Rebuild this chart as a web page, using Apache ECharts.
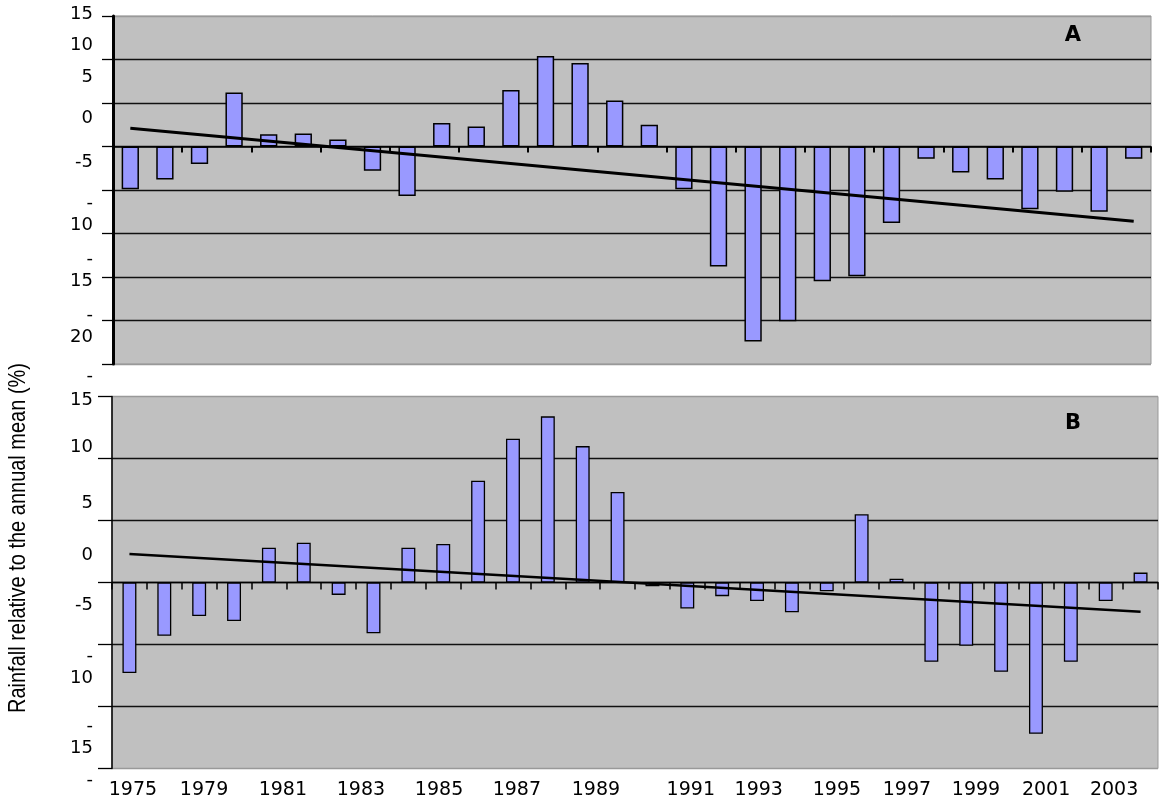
<!DOCTYPE html>
<html><head><meta charset="utf-8">
<script src="https://cdn.jsdelivr.net/npm/echarts@6/dist/echarts.min.js"></script>
<style>html,body{margin:0;padding:0;background:#fff}#c{width:1168px;height:802px}</style>
</head><body><div id="c"></div>
<script>
// ---- data ----
const years = ['1975','1976','1977','1978','1979','1980','1981','1982','1983','1984',
  '1985','1986','1987','1988','1989','1990','1991','1992','1993','1994',
  '1995','1996','1997','1998','1999','2000','2001','2002','2003','2004'];
const valuesA = [-4.9,-3.8,-2.0,6.2,1.4,1.5,0.8,-2.8,-5.7,2.7,
  2.3,6.5,10.4,9.6,5.3,2.5,-4.9,-13.8,-22.4,-20.1,
  -15.5,-14.9,-8.8,-1.4,-3.0,-3.8,-7.2,-5.2,-7.5,-1.4];
const valuesB = [-7.3,-4.3,-2.7,-3.1,2.8,3.2,-1.0,-4.1,2.8,3.1,
  8.2,11.6,13.4,11.0,7.3,-0.3,-2.1,-1.1,-1.5,-2.4,
  -0.7,5.5,0.3,-6.4,-5.1,-7.2,-12.2,-6.4,-1.5,0.8];
const trendA = [2.1, -8.6];   // trend line, first and last year
const trendB = [2.3, -2.35];
const yLabelsA = ['15','10','5','0','-5','-\n10','-\n15','-\n20','-'];
const yLabelsB = ['15','10','5','0','-5','-\n10','-\n15','-'];
const xLabels = ['1975','1979','1981','1983','1985','1987','1989','1991','1993','1995','1997','1999','2001','2003'];
const yTitle = 'Rainfall relative to the annual mean (%)';

// ---- label placement (layout, in axis units) ----
const yLabelSlotsA = [15.23, 11.67, 7.99, 3.28, -1.78, -7.76, -14.2, -20.63, -26.38];
const yLabelSlotsB = [14.72, 10.93, 6.41, 2.22, -1.81, -6.81, -12.46, -15.93];
const xLabelSlots = [0.10, 2.14, 4.40, 6.64, 8.88, 11.11, 13.38, 16.10, 18.05, 20.29, 22.30, 24.28, 26.29, 28.24];

function pick(slots, labels) {
  return function (v) {
    let bi = 0, bd = Infinity;
    slots.forEach((s, i) => { const d = Math.abs(s - v); if (d < bd) { bd = d; bi = i; } });
    return labels[bi];
  };
}
const FONT = "'DejaVu Sans', Verdana, sans-serif";
const TITLE_FONT = "24px 'Liberation Sans', Arial, sans-serif";
const BAR = '#9999ff';
const GRID_BG = '#c0c0c0';

// narrow the title to the reference's condensed look
const mctx = document.createElement('canvas').getContext('2d');
mctx.font = TITLE_FONT;
const titleScale = Math.min(1, 350 / mctx.measureText(yTitle).width);

const chart = echarts.init(document.getElementById('c'), null, {renderer: 'canvas'});
const trendData = (t) => [[years[0], t[0]], [years[years.length - 1], t[1]]];

chart.setOption({
  animation: false,
  backgroundColor: '#fff',
  grid: [
    {left: 113, top: 16, width: 1038, height: 348, show: true, backgroundColor: GRID_BG, borderColor: '#999', borderWidth: 1},
    {left: 112, top: 396.5, width: 1046, height: 372, show: true, backgroundColor: GRID_BG, borderColor: '#999', borderWidth: 1},
    {left: 113, top: 7.3, width: 1038, height: 374.1, show: false},
    {left: 112, top: 384.1, width: 1046, height: 409.2, show: false}
  ],
  xAxis: [
    {gridIndex: 0, type: 'category', data: years,
      axisLine: {onZero: true, lineStyle: {color: '#000', width: 1.5}},
      axisTick: {show: true, length: 6, lineStyle: {color: '#000', width: 2}},
      axisLabel: {show: false}, splitLine: {show: false}},
    {gridIndex: 1, type: 'category', data: years,
      axisLine: {onZero: true, lineStyle: {color: '#000', width: 1.3}},
      axisTick: {show: true, length: 7, lineStyle: {color: '#000', width: 1.5}},
      axisLabel: {show: false}, splitLine: {show: false}},
    {gridIndex: 1, type: 'value', min: -0.5, max: 29.5, position: 'bottom',
      axisLine: {show: false, onZero: false}, axisTick: {show: false}, splitLine: {show: false},
      axisLabel: {show: true, customValues: xLabelSlots, formatter: pick(xLabelSlots, xLabels),
        color: '#000', fontSize: 19, fontFamily: FONT, margin: 12}},
    {gridIndex: 2, type: 'value', show: false},
    {gridIndex: 3, type: 'value', show: false}
  ],
  yAxis: [
    {gridIndex: 0, type: 'value', min: -25, max: 15, interval: 5,
      axisLine: {show: true, onZero: false, lineStyle: {color: '#000', width: 3}},
      axisTick: {show: true, length: 11, lineStyle: {color: '#000', width: 1.3}},
      axisLabel: {show: false},
      splitLine: {show: true, lineStyle: {color: ['#999','#111','#111','#111','#111','#111','#111','#111'], width: 1.3}}},
    {gridIndex: 1, type: 'value', min: -15, max: 15, interval: 5,
      axisLine: {show: true, onZero: false, lineStyle: {color: '#000', width: 1.5}},
      axisTick: {show: true, length: 14, lineStyle: {color: '#000', width: 1.3}},
      axisLabel: {show: false},
      splitLine: {show: true, lineStyle: {color: ['#999','#111','#111','#111','#111','#111'], width: 1.3}}},
    {gridIndex: 2, type: 'value', min: -27, max: 16,
      axisLine: {show: false, onZero: false}, axisTick: {show: false}, splitLine: {show: false},
      axisLabel: {show: true, customValues: yLabelSlotsA, formatter: pick(yLabelSlotsA, yLabelsA),
        color: '#000', fontSize: 18, lineHeight: 22, fontFamily: FONT, margin: 20}},
    {gridIndex: 3, type: 'value', min: -17, max: 16,
      axisLine: {show: false, onZero: false}, axisTick: {show: false}, splitLine: {show: false},
      axisLabel: {show: true, customValues: yLabelSlotsB, formatter: pick(yLabelSlotsB, yLabelsB),
        color: '#000', fontSize: 18, lineHeight: 22, fontFamily: FONT, margin: 19}}
  ],
  series: [
    {type: 'bar', xAxisIndex: 0, yAxisIndex: 0, data: valuesA, barWidth: '50%',
      itemStyle: {color: BAR, borderColor: '#000', borderWidth: 1.5}},
    {type: 'line', xAxisIndex: 0, yAxisIndex: 0, data: trendData(trendA), showSymbol: false,
      lineStyle: {color: '#000', width: 3}, z: 5},
    {type: 'bar', xAxisIndex: 1, yAxisIndex: 1, data: valuesB, barWidth: '40%',
      itemStyle: {color: BAR, borderColor: '#000', borderWidth: 1.3}},
    {type: 'line', xAxisIndex: 1, yAxisIndex: 1, data: trendData(trendB), showSymbol: false,
      lineStyle: {color: '#000', width: 2.5}, z: 5}
  ],
  graphic: [
    {type: 'text', x: 18, y: 538, rotation: Math.PI / 2, scaleX: titleScale,
      style: {text: yTitle, font: TITLE_FONT, fill: '#000', align: 'center', verticalAlign: 'middle'}},
    {type: 'text', x: 1073, y: 36,
      style: {text: 'A', font: "bold 21px 'DejaVu Sans', sans-serif", fill: '#000', align: 'center', verticalAlign: 'middle'}},
    {type: 'text', x: 1073, y: 424,
      style: {text: 'B', font: "bold 21px 'DejaVu Sans', sans-serif", fill: '#000', align: 'center', verticalAlign: 'middle'}}
  ]
});
</script></body></html>
